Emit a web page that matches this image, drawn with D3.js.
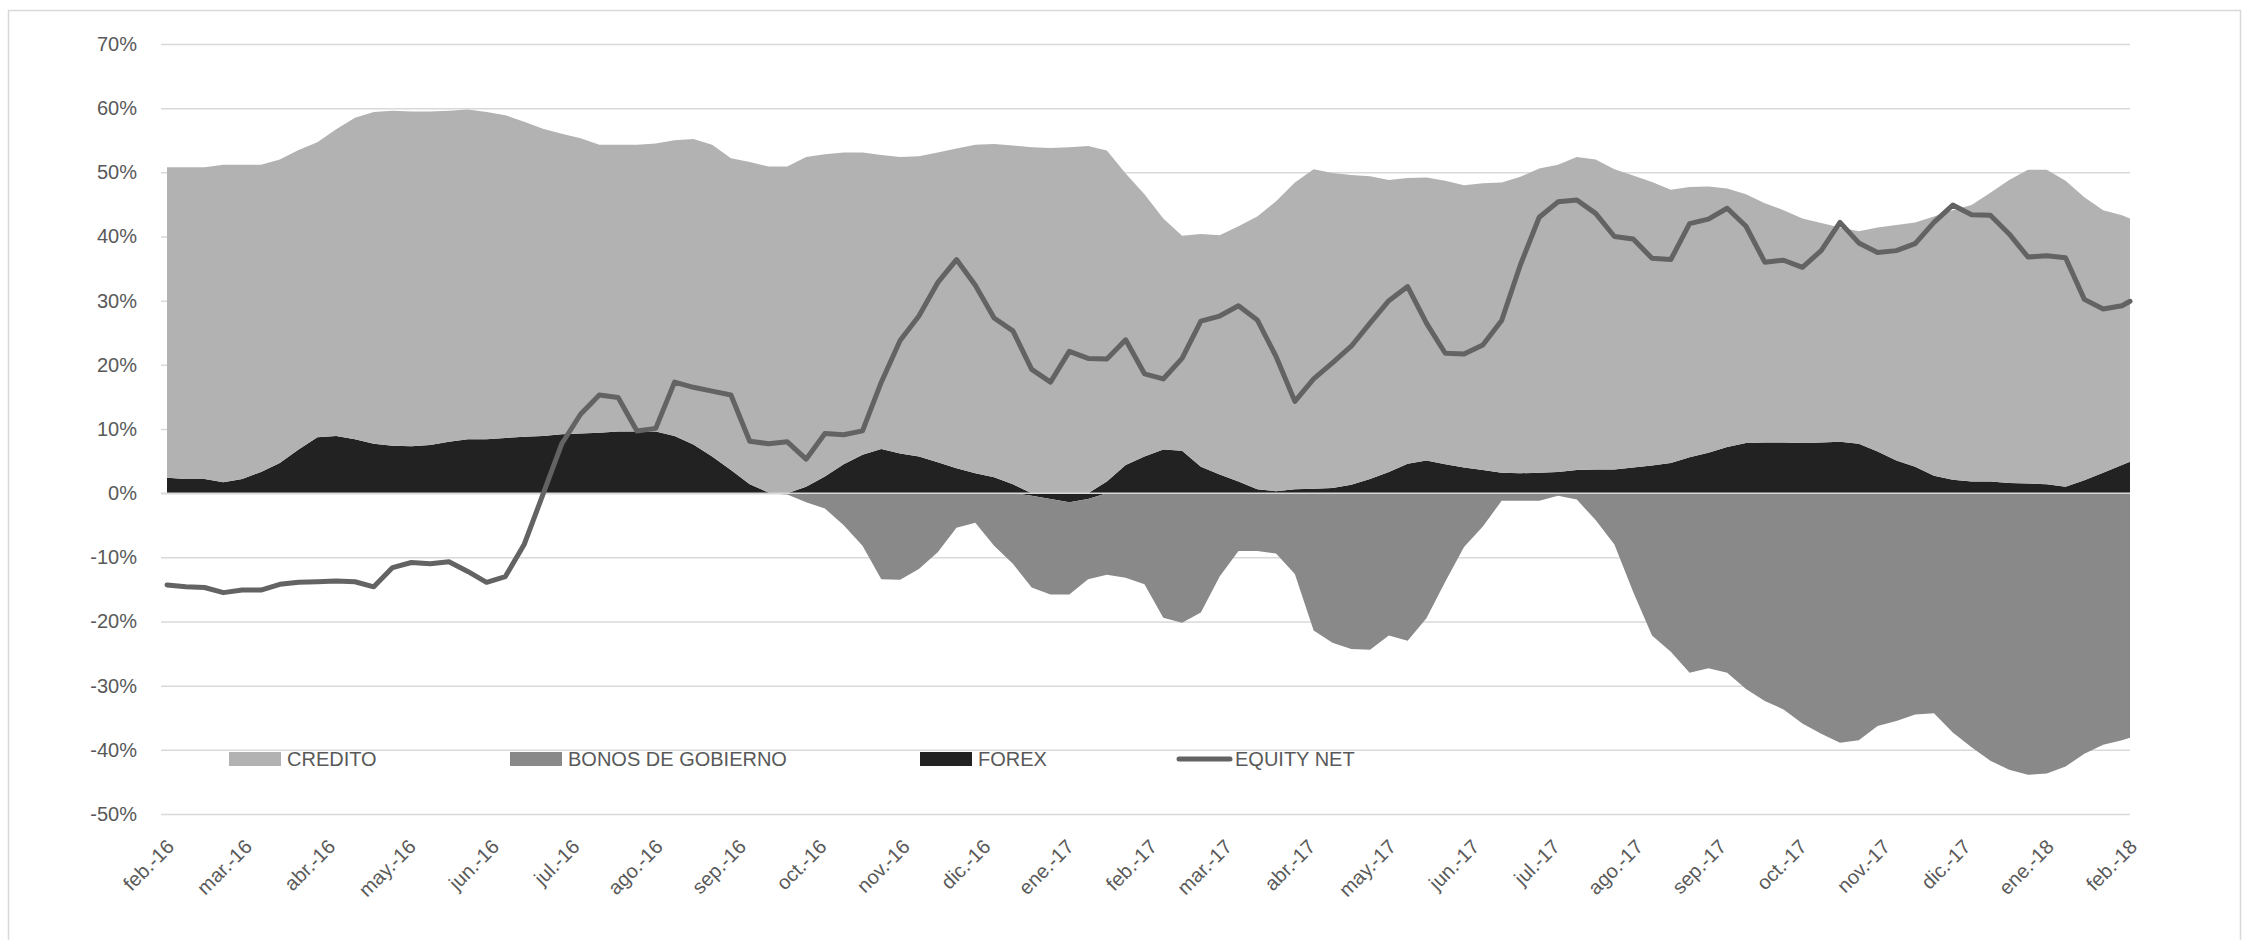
<!DOCTYPE html>
<html>
<head>
<meta charset="utf-8">
<script src="https://cdn.jsdelivr.net/npm/d3@7"></script>
<style>
  html, body { margin: 0; padding: 0; background: #ffffff; }
  svg { display: block; font-family: "Liberation Sans", Arial, sans-serif; }
</style>
</head>
<body>
<svg id="chart" width="2252" height="940"></svg>
<script>
// ---------- DATA (weekly readings, %, from 1 Feb 2016 to 1 Feb 2018) ----------
const seriesNames = ["CREDITO", "BONOS DE GOBIERNO", "FOREX", "EQUITY NET"];
const monthNames = ["ene.", "feb.", "mar.", "abr.", "may.", "jun.", "jul.", "ago.", "sep.", "oct.", "nov.", "dic."];
const yTicks = [-50, -40, -30, -20, -10, 0, 10, 20, 30, 40, 50, 60, 70];
const firstDay = "2016-02-01";
const lastDay = "2018-02-01";

const credito = [48.4,48.6,48.6,49.5,49.0,47.9,47.3,46.7,46.0,47.8,
  50.1,51.7,52.2,52.2,52.0,51.6,51.4,51.0,50.3,49.1,
  47.9,46.8,46.0,44.9,44.7,44.7,44.9,46.1,47.6,48.6,
  48.6,50.2,50.8,50.9,51.4,50.2,48.6,47.1,45.8,46.2,
  46.8,48.3,49.8,51.2,51.9,52.8,53.9,53.8,53.9,54.1,
  51.6,45.4,40.9,36.0,33.5,36.3,37.3,39.8,42.5,45.2,
  47.8,49.8,49.1,48.3,47.2,45.5,44.5,44.1,44.2,44.0,
  44.7,45.2,46.2,47.4,47.9,48.8,48.3,46.8,45.5,44.2,
  42.6,42.1,41.5,40.3,38.8,37.3,36.2,35.0,34.2,33.4,
  33.1,34.9,36.7,38.1,40.4,42.0,43.1,45.0,47.2,48.9,
  49.0,47.7,44.1,40.9,38.9,37.9];

const bonos = [0,0,0,0,0,0,0,0,0,0,
  0,0,0,0,0,0,0,0,0,0,
  0,0,0,0,0,0,0,0,0,0,
  0,0,0,-0.2,-1.4,-2.4,-5.0,-8.2,-13.4,-13.5,
  -11.8,-9.2,-5.4,-4.6,-8.2,-11.0,-14.3,-14.9,-14.4,-12.5,
  -12.7,-13.2,-14.2,-19.4,-20.2,-18.6,-13.0,-9.0,-9.0,-9.4,
  -12.6,-21.4,-23.3,-24.3,-24.4,-22.2,-23.0,-19.5,-13.8,-8.4,
  -5.2,-1.2,-1.2,-1.2,-0.4,-1.0,-4.2,-8.0,-15.4,-22.2,
  -24.7,-28.0,-27.3,-28.0,-30.5,-32.4,-33.7,-35.9,-37.5,-38.9,
  -38.5,-36.3,-35.5,-34.5,-34.3,-37.3,-39.6,-41.7,-43.1,-43.9,
  -43.7,-42.6,-40.6,-39.2,-38.5,-38.1];

const forex = [2.4,2.2,2.2,1.7,2.2,3.3,4.7,6.8,8.7,8.9,
  8.4,7.7,7.4,7.3,7.5,8.0,8.4,8.4,8.6,8.8,
  8.9,9.2,9.3,9.4,9.6,9.6,9.6,8.9,7.6,5.7,
  3.6,1.4,0.1,0,1.0,2.6,4.5,6.0,6.9,6.2,
  5.7,4.8,3.9,3.1,2.5,1.4,-0.4,-0.9,-1.4,-0.9,
  1.8,4.4,5.7,6.8,6.6,4.1,2.9,1.8,0.6,0.3,
  0.6,0.7,0.8,1.3,2.2,3.3,4.6,5.1,4.5,4.0,
  3.6,3.2,3.1,3.2,3.3,3.6,3.7,3.7,4.0,4.3,
  4.7,5.6,6.3,7.2,7.8,7.9,7.9,7.8,7.9,8.0,
  7.7,6.5,5.1,4.1,2.7,2.1,1.8,1.8,1.6,1.5,
  1.4,1.0,2.0,3.2,4.4,4.9];

const equityNet = [-14.3,-14.6,-14.7,-15.5,-15.1,-15.1,-14.2,-13.9,-13.8,-13.7,
  -13.8,-14.6,-11.6,-10.8,-11.0,-10.7,-12.2,-13.9,-13.0,-8.0,
  -0.2,7.7,12.3,15.3,14.9,9.7,10.1,17.3,16.5,15.9,
  15.3,8.1,7.7,8.0,5.3,9.3,9.1,9.7,17.3,23.8,
  27.6,32.8,36.4,32.4,27.3,25.3,19.3,17.3,22.1,21.0,
  20.9,23.9,18.6,17.8,21.0,26.8,27.6,29.2,27.0,21.3,
  14.3,17.8,20.3,22.9,26.5,30.0,32.2,26.5,21.8,21.7,
  23.1,26.9,35.6,43.0,45.4,45.7,43.6,40.0,39.6,36.6,
  36.4,42.0,42.7,44.4,41.6,36.0,36.3,35.2,37.8,42.2,
  39.0,37.5,37.8,38.9,42.2,44.9,43.4,43.3,40.4,36.8,
  37.0,36.7,30.2,28.7,29.2,29.9];

// ---------- BUILD ----------
const parse = d3.timeParse("%Y-%m-%d");
const start = parse(firstDay), end = parse(lastDay);
const dates = d3.range(credito.length - 1).map(i => d3.timeDay.offset(start, 7 * i)).concat([end]);
const rows = dates.map((d, i) => ({
  date: d,
  credito: credito[i] / 100,
  bonos: bonos[i] / 100,
  forex: forex[i] / 100,
  equity: equityNet[i] / 100
}));

const colors = { credito: "#b2b2b2", bonos: "#898989", forex: "#222222", equity: "#636363" };
const textColor = "#595959";
const gridColor = "#d9d9d9";

const svg = d3.select("#chart");

// outer border
svg.append("rect").attr("x", 8.5).attr("y", 10.5).attr("width", 2232).attr("height", 940)
  .attr("fill", "#fff").attr("stroke", gridColor).attr("stroke-width", 1.5);

const plotL = 161, plotR = 2130;
const x = d3.scaleTime().domain([start, end]).range([167, 2130]);
const y = d3.scaleLinear().domain([-0.5, 0.7]).range([814, 44]);

// y axis + gridlines
const yAxis = d3.axisLeft(y)
  .tickValues(yTicks.map(v => v / 100))
  .tickFormat(d => Math.round(d * 100) + "%")
  .tickSize(-(plotR - plotL))
  .tickPadding(24);
const gy = svg.append("g").attr("transform", `translate(${plotL},0)`).call(yAxis);
gy.select(".domain").remove();
gy.selectAll(".tick line").attr("stroke", gridColor).attr("stroke-width", 1.5);
gy.selectAll(".tick text").attr("fill", textColor).attr("font-size", 20)
  .attr("font-family", "Liberation Sans, Arial, sans-serif");

// stacked areas
const stack = d3.stack().keys(["forex", "credito", "bonos"]).offset(d3.stackOffsetDiverging);
const layers = stack(rows);
const area = d3.area().x(d => x(d.data.date)).y0(d => y(d[0])).y1(d => y(d[1]));
svg.append("g").selectAll("path").data(layers).join("path")
  .attr("d", area)
  .attr("fill", d => colors[d.key]);

// zero axis line on top of areas
svg.append("line").attr("x1", plotL).attr("x2", plotR).attr("y1", y(0)).attr("y2", y(0))
  .attr("stroke", gridColor).attr("stroke-width", 1.5);

// equity line
const line = d3.line().x(d => x(d.date)).y(d => y(d.equity));
svg.append("path").datum(rows).attr("d", line)
  .attr("fill", "none").attr("stroke", colors.equity).attr("stroke-width", 5)
  .attr("stroke-linejoin", "round").attr("stroke-linecap", "round");

// x axis
const xAxis = d3.axisBottom(x)
  .tickValues(d3.timeMonth.range(start, d3.timeDay.offset(end, 1)))
  .tickFormat(d => monthNames[d.getMonth()] + "-" + String(d.getFullYear()).slice(2))
  .tickSize(0);
const gx = svg.append("g").attr("transform", `translate(0,${y(-0.5)})`).call(xAxis);
gx.select(".domain").remove();
gx.selectAll(".tick text")
  .attr("fill", textColor).attr("font-size", 20)
  .attr("font-family", "Liberation Sans, Arial, sans-serif")
  .attr("text-anchor", "end")
  .attr("x", 0).attr("y", 0).attr("dy", "0.35em")
  .attr("transform", "translate(3,29) rotate(-45)");

// legend
const legendItems = [
  { name: seriesNames[0], key: "credito", type: "rect", x: 229 },
  { name: seriesNames[1], key: "bonos", type: "rect", x: 510 },
  { name: seriesNames[2], key: "forex", type: "rect", x: 920 },
  { name: seriesNames[3], key: "equity", type: "line", x: 1177 }
];
const legY = 759;
const lg = svg.append("g");
legendItems.forEach(it => {
  if (it.type === "rect") {
    lg.append("rect").attr("x", it.x).attr("y", legY - 7).attr("width", 52).attr("height", 14)
      .attr("fill", colors[it.key]);
  } else {
    lg.append("line").attr("x1", it.x + 2).attr("x2", it.x + 53).attr("y1", legY).attr("y2", legY)
      .attr("stroke", colors[it.key]).attr("stroke-width", 5).attr("stroke-linecap", "round");
  }
  lg.append("text").attr("x", it.x + 58).attr("y", legY).attr("dy", "0.35em")
    .attr("fill", textColor).attr("font-size", 20).text(it.name);
});
</script>
</body>
</html>
